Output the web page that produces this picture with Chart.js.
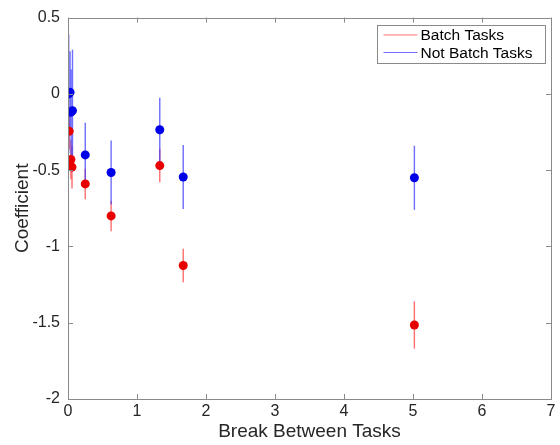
<!DOCTYPE html>
<html>
<head>
<meta charset="utf-8">
<script src="https://cdn.jsdelivr.net/npm/chart.js@4.4.1/dist/chart.umd.min.js"></script>
<style>
  body { margin: 0; background: #fff; }
  canvas { display: block; }
</style>
</head>
<body>
<canvas id="chart" width="560" height="445"></canvas>
<script>
// break length between tasks, coefficient and half-length of its error bar
const batchBreaks = [0.017, 0.042, 0.058, 0.25, 0.625, 1.33, 1.67, 5.02];
const batchCoef   = [-0.245, -0.43, -0.48, -0.59, -0.80, -0.47, -1.125, -1.515];
const batchErr    = [0.12, 0.13, 0.14, 0.10, 0.10, 0.11, 0.11, 0.155];

const otherBreaks = [0.01, 0.03, 0.045, 0.065, 0.25, 0.625, 1.33, 1.67, 5.02];
const otherCoef   = [0.0, 0.01, -0.12, -0.11, -0.40, -0.515, -0.235, -0.545, -0.55];
const otherErr    = [0.39, 0.27, 0.28, 0.40, 0.21, 0.21, 0.21, 0.21, 0.21];

const seriesLabels = ['Batch Tasks', 'Not Batch Tasks'];
const xTicks = [0, 1, 2, 3, 4, 5, 6, 7];
const yTicks = [0.5, 0, -0.5, -1, -1.5, -2];

const FONT = '"Liberation Sans", Arial, Helvetica, sans-serif';
const AXIS_GREY = '#8a8a8a';
const TEXT = '#262626';

function toPoints(xs, ys, errs) {
  return xs.map((v, i) => ({ x: v, y: ys[i], err: errs[i] }));
}

// error bars go under the dots, box + inward ticks + legend on top
const errorBarsAndFrame = {
  id: 'errorBarsAndFrame',
  beforeDatasetsDraw(chart) {
    const { ctx, scales: { x, y } } = chart;
    chart.data.datasets.forEach((ds) => {
      ctx.save();
      ctx.strokeStyle = ds.errorColor;
      ctx.lineWidth = 1.4;
      ds.data.forEach((p) => {
        const px = x.getPixelForValue(p.x);
        ctx.beginPath();
        ctx.moveTo(px, y.getPixelForValue(p.y - p.err));
        ctx.lineTo(px, y.getPixelForValue(p.y + p.err));
        ctx.stroke();
      });
      ctx.restore();
    });
  },
  afterDraw(chart) {
    const { ctx, chartArea: a, scales: { x, y } } = chart;
    ctx.save();
    ctx.strokeStyle = AXIS_GREY;
    ctx.lineWidth = 1;
    ctx.strokeRect(Math.round(a.left) + 0.5, Math.round(a.top) + 0.5,
                   Math.round(a.right - a.left), Math.round(a.bottom - a.top));
    const len = 5;
    ctx.beginPath();
    xTicks.forEach((t) => {
      const px = Math.round(x.getPixelForValue(t)) + 0.5;
      ctx.moveTo(px, a.bottom); ctx.lineTo(px, a.bottom - len);
      ctx.moveTo(px, a.top); ctx.lineTo(px, a.top + len);
    });
    yTicks.forEach((t) => {
      const py = Math.round(y.getPixelForValue(t)) + 0.5;
      ctx.moveTo(a.left, py); ctx.lineTo(a.left + len, py);
      ctx.moveTo(a.right, py); ctx.lineTo(a.right - len, py);
    });
    ctx.stroke();

    // legend
    const bx = 377.5, by = 25.5, bw = 168, bh = 38;
    ctx.fillStyle = '#fff';
    ctx.fillRect(bx, by, bw, bh);
    ctx.strokeStyle = '#8a8a8a';
    ctx.strokeRect(bx, by, bw, bh);
    ctx.font = '15.5px ' + FONT;
    ctx.textBaseline = 'middle';
    chart.data.datasets.forEach((ds, i) => {
      const ly = by + 9.5 + i * 17.5;
      ctx.strokeStyle = ds.legendColor;
      ctx.lineWidth = 1;
      ctx.beginPath();
      ctx.moveTo(bx + 6, ly); ctx.lineTo(bx + 40, ly);
      ctx.stroke();
      ctx.fillStyle = '#000';
      ctx.fillText(ds.label, bx + 43, ly + 1);
    });
    ctx.restore();
  }
};

new Chart(document.getElementById('chart'), {
  type: 'scatter',
  data: {
    datasets: [
      {
        label: seriesLabels[0],
        data: toPoints(batchBreaks, batchCoef, batchErr),
        backgroundColor: 'rgb(232,0,0)',
        borderColor: 'rgb(232,0,0)',
        errorColor: 'rgba(255,60,60,0.75)',
        legendColor: '#ff7070',
        pointRadius: 4.5,
        borderWidth: 0
      },
      {
        label: seriesLabels[1],
        data: toPoints(otherBreaks, otherCoef, otherErr),
        backgroundColor: 'rgb(0,0,232)',
        borderColor: 'rgb(0,0,232)',
        errorColor: 'rgba(60,60,255,0.75)',
        legendColor: '#7070ff',
        pointRadius: 4.5,
        borderWidth: 0
      }
    ]
  },
  options: {
    responsive: false,
    animation: false,
    devicePixelRatio: 1,
    layout: { padding: { top: 14, right: 9, left: 0, bottom: 0 } },
    plugins: {
      legend: { display: false },
      tooltip: { enabled: false }
    },
    scales: {
      x: {
        type: 'linear',
        min: 0,
        max: 7,
        afterBuildTicks: (s) => { s.ticks = xTicks.map((v) => ({ value: v })); },
        afterFit: (s) => { s.height = 46; },
        grid: { display: false, drawTicks: false },
        border: { display: false },
        ticks: {
          color: TEXT,
          padding: 3,
          font: { family: FONT, size: 16 },
          maxRotation: 0
        },
        title: {
          display: true,
          text: 'Break Between Tasks',
          color: TEXT,
          font: { family: FONT, size: 19 },
          padding: { top: 0, bottom: 2 }
        }
      },
      y: {
        type: 'linear',
        min: -2,
        max: 0.5,
        afterBuildTicks: (s) => { s.ticks = yTicks.map((v) => ({ value: v })); },
        afterFit: (s) => { s.width = 68; },
        grid: { display: false, drawTicks: false },
        border: { display: false },
        ticks: {
          color: TEXT,
          padding: 8,
          font: { family: FONT, size: 16 },
          callback: (v) => String(v)
        },
        title: {
          display: true,
          text: 'Coefficient',
          color: TEXT,
          font: { family: FONT, size: 19 },
          padding: { top: 11, bottom: 0 }
        }
      }
    }
  },
  plugins: [errorBarsAndFrame]
});
</script>
</body>
</html>
